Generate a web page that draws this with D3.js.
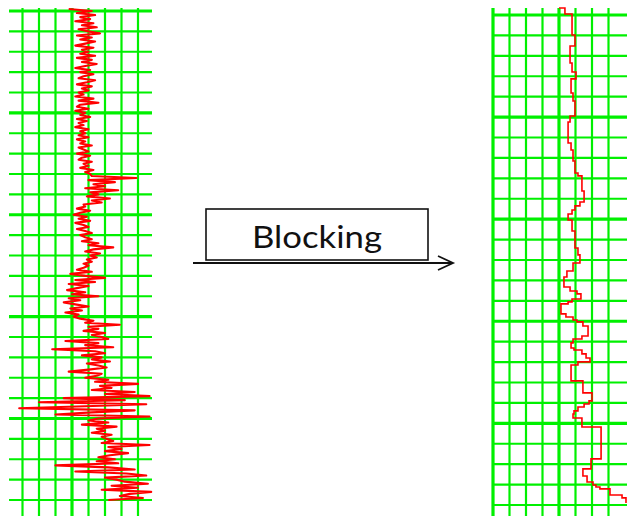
<!DOCTYPE html>
<html>
<head>
<meta charset="utf-8">
<script src="https://cdn.jsdelivr.net/npm/d3@7"></script>
<style>
  html, body { margin: 0; padding: 0; background: #fff; }
  svg { display: block; }
</style>
</head>
<body>
<script>
// ---- Raw log: one reading per depth unit, first sample at depth -1 ----
const rawDepthStart = -1;
const rawDepthStep = 1;
const rawLog = [
  48,62,53,64,55,61,52,63,56,65,54,60,67,53,62,55,64,58,52,63,56,60,
  55,64,53,62,56,65,58,52,61,55,63,57,54,64,59,53,62,56,60,54,
  57,52,63,54,66,55,53,60,52,58,55,61,53,59,54,57,52,60,55,58,
  54,60,53,58,55,62,54,57,60,53,61,56,54,62,57,60,55,63,58,61,
  62,89,60,76,63,70,58,78,61,66,59,73,62,68,57,
  58,53,61,55,51,59,54,61,52,57,60,53,58,62,55,
  58,62,56,66,60,75,63,58,67,61,65,59,62,57,60,
  57,53,62,49,58,70,52,64,48,60,
  53,47,58,50,66,48,55,45,52,60,49,56,46,54,51,
  55,63,58,79,60,66,57,70,62,68,
  72,46,66,58,75,38,64,70,56,68,62,73,59,66,71,
  60,48,68,65,58,72,64,90,67,74,62,88,
  70,97,45,82,30,95,58,18,88,62,40,97,66,
  60,72,56,77,65,70,62,74,68,71,
  75,68,97,72,80,70,84,73,66,76,
  65,78,40,72,88,52,83,95,70,77,
  82,96,74,90,68,98,85,79,93,72
];

// ---- Blocked log: top depth of each block and its constant value ----
const blockTops = [
  -3.4, -0.5, 9.8, 15.2, 23.5, 27.9, 31.3, 38.2, 42.1, 49.5,
  52.4, 62.7, 66.1, 71.5, 77.4, 78.8, 86.2, 91.6, 93.5, 95.5,
  97.5, 100.4, 105.8, 114.1, 117.5, 121.5, 125.4, 128.3, 133.2, 135.2,
  136.6, 139.1, 140.5, 141.5, 146.4, 147.9, 149.4, 150.3, 152.3, 157.2,
  158.7, 160.6, 163.1, 164.1, 166.0, 168.0, 169.9, 171.4, 179.2, 185.1,
  189.0, 190.5, 192.0, 193.9, 195.4, 197.4, 201.8, 217.4, 222.3, 225.8,
  228.7, 230.2, 231.2, 232.1, 235.1, 236.5
];
const blockValues = [
  53.6, 57.9, 59.7, 56.7, 57.9, 60.3, 57.3, 58.5, 59.7, 56.7,
  55.5, 57.3, 58.5, 59.7, 61.5, 63.9, 65.2, 62.7, 59.7, 57.9,
  55.5, 57.9, 59.7, 61.5, 62.7, 58.5, 54.8, 53.0, 56.7, 60.9,
  63.3, 57.9, 55.5, 51.2, 54.2, 58.5, 60.9, 64.5, 67.6, 63.9,
  58.5, 57.3, 59.1, 63.9, 66.4, 68.8, 61.5, 57.3, 64.5, 70.0,
  68.2, 65.2, 61.5, 59.1, 58.5, 63.9, 75.5, 69.4, 64.5, 67.0,
  70.6, 72.4, 74.8, 80.9, 88.2, 90.6
];
const blockBase = 239;
const blockStubValue = 50;

// ---- Grid ticks ----
const depthGrid = [0,10,20,30,40,50,60,70,80,90,100,110,120,130,140,150,160,170,180,190,200,210,220,230,240];
const depthMajor = [0,50,100,150,200];
const leftValueGrid = [20,30,40,50,60,70,80,90];
const leftValueMajor = [50];
const rightValueGrid = [10,20,30,40,50,60,70,80];
const rightValueMajor = [10,50];

const processLabel = "Blocking";

// ---- Drawing ----
const W = 627, H = 516;
const GREEN = "#00f000", RED = "#ff0000";

const svg = d3.select("body").append("svg")
  .attr("width", W).attr("height", H)
  .attr("viewBox", `0 0 ${W} ${H}`);
svg.append("rect").attr("width", W).attr("height", H).attr("fill", "#fff");

function drawTrack(opt) {
  const g = svg.append("g");
  const x = opt.x, y = opt.y;
  // horizontal depth lines
  g.selectAll("line.h").data(depthGrid).join("line")
    .attr("x1", opt.hx0).attr("x2", opt.hx1)
    .attr("y1", d => y(d)).attr("y2", d => y(d))
    .attr("stroke", GREEN)
    .attr("stroke-width", d => depthMajor.includes(d) ? 3.2 : 2.2);
  // vertical value lines
  g.selectAll("line.v").data(opt.vGrid).join("line")
    .attr("x1", d => x(d)).attr("x2", d => x(d))
    .attr("y1", opt.vy0).attr("y2", opt.vy1)
    .attr("stroke", GREEN)
    .attr("stroke-width", d => opt.vMajor.includes(d) ? 3.2 : 2.2);
  return g;
}

// Left track: raw log
const xL = d3.scaleLinear().domain([50, 60]).range([72, 88.5]);
const yL = d3.scaleLinear().domain([0, 240]).range([11, 500]);
const gL = drawTrack({ x: xL, y: yL, hx0: 9, hx1: 152, vy0: 8, vy1: H,
  vGrid: leftValueGrid, vMajor: leftValueMajor });

const rawLine = d3.line()
  .x(d => xL(d))
  .y((d, i) => yL(rawDepthStart + i * rawDepthStep));
gL.append("path")
  .datum(rawLog)
  .attr("d", rawLine)
  .attr("fill", "none")
  .attr("stroke", RED)
  .attr("stroke-width", 2.1)
  .attr("stroke-linejoin", "round");

// Right track: blocked log
const xR = d3.scaleLinear().domain([50, 60]).range([559, 575.5]);
const yR = d3.scaleLinear().domain([0, 240]).range([15, 505]);
const gR = drawTrack({ x: xR, y: yR, hx0: 493, hx1: W, vy0: 8, vy1: H,
  vGrid: rightValueGrid, vMajor: rightValueMajor });

// each block holds its value from its top down to the next top
const blockPts = [[blockStubValue, blockTops[0]]]
  .concat(blockTops.map((t, i) => [blockValues[i], t]))
  .concat([[blockValues[blockValues.length - 1], blockBase]]);
const stepLine = d3.line()
  .x(d => xR(d[0]))
  .y(d => yR(d[1]))
  .curve(d3.curveStepBefore);
gR.append("path")
  .datum(blockPts)
  .attr("d", stepLine)
  .attr("fill", "none")
  .attr("stroke", RED)
  .attr("stroke-width", 1.6);

// Process box and arrow
const gA = svg.append("g");
gA.append("rect")
  .attr("x", 206).attr("y", 209).attr("width", 222).attr("height", 51)
  .attr("fill", "#fff").attr("stroke", "#111").attr("stroke-width", 1.6);
gA.append("text")
  .attr("x", 317).attr("y", 248)
  .attr("text-anchor", "middle")
  .attr("font-family", "Lato, 'Open Sans', sans-serif")
  .attr("font-size", 30)
  .attr("fill", "#111")
  .attr("textLength", 130)
  .attr("lengthAdjust", "spacingAndGlyphs")
  .text(processLabel);
gA.append("line")
  .attr("x1", 193).attr("x2", 453).attr("y1", 263).attr("y2", 263)
  .attr("stroke", "#111").attr("stroke-width", 1.8);
gA.append("polyline")
  .attr("points", "438,256 453,263 438,270")
  .attr("fill", "none").attr("stroke", "#111").attr("stroke-width", 1.8);
</script>
</body>
</html>
